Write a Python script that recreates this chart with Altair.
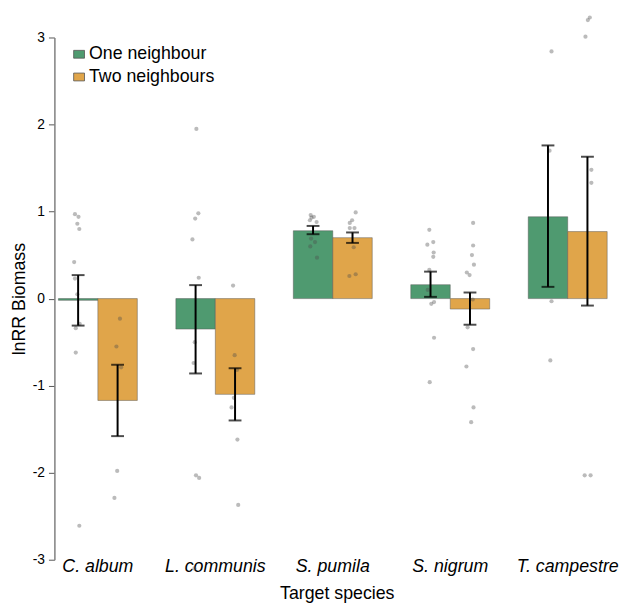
import altair as alt
import pandas as pd

species = ["C. album", "L. communis", "S. pumila", "S. nigrum", "T. campestre"]
groups = ["One neighbour", "Two neighbours"]

mean_one = [-0.02, -0.35, 0.78, 0.16, 0.94]
mean_two = [-1.17, -1.10, 0.70, -0.12, 0.77]
lo_one = [-0.31, -0.86, 0.74, 0.02, 0.135]
hi_one = [0.27, 0.155, 0.835, 0.31, 1.76]
lo_two = [-1.58, -1.40, 0.64, -0.30, -0.08]
hi_two = [-0.76, -0.80, 0.76, 0.07, 1.63]

# raw observations (value, horizontal jitter in bar widths)
calb_one = [0.97, 0.94, 0.86, 0.80, 0.42, 0.23, 0.05, -0.29, -0.34, -0.62, -2.61]
calb_one_j = [-0.08, 0.01, -0.02, 0.03, -0.10, -0.08, -0.02, 0.04, -0.06, -0.06, 0.03]
calb_two = [-0.23, -0.55, -0.79, -1.98, -2.29]
calb_two_j = [0.06, -0.03, 0.09, -0.01, -0.08]
lcom_one = [1.95, 0.98, 0.92, 0.68, 0.24, -0.50, -0.74, -2.03, -2.06, -3.10]
lcom_one_j = [0.02, 0.07, -0.01, -0.08, 0.08, -0.02, -0.05, 0.01, 0.09, -0.03]
lcom_two = [0.15, -0.65, -0.82, -1.14, -1.25, -1.62, -2.37]
lcom_two_j = [-0.05, -0.01, 0.05, -0.03, -0.09, 0.06, 0.08]
spum_one = [0.96, 0.94, 0.93, 0.90, 0.88, 0.69, 0.65, 0.60, 0.47]
spum_one_j = [-0.06, 0.02, -0.04, -0.08, 0.09, -0.05, 0.05, -0.07, 0.10]
spum_two = [0.99, 0.90, 0.87, 0.81, 0.81, 0.59, 0.26, 0.28]
spum_two_j = [0.08, -0.01, -0.07, -0.07, 0.05, 0.03, -0.08, 0.08]
snig_one = [0.79, 0.62, 0.65, 0.53, 0.48, 0.33, 0.10, -0.06, -0.04, -0.45, -0.96]
snig_one_j = [-0.03, -0.08, 0.07, 0.08, 0.07, -0.03, -0.07, 0.02, 0.09, 0.09, -0.02]
snig_two = [0.87, 0.61, 0.50, 0.39, 0.30, 0.27, -0.01, -0.33, -0.58, -0.78, -1.25, -1.42]
snig_two_j = [0.08, 0.08, 0.05, 0.10, -0.08, -0.01, 0.07, -0.06, 0.08, -0.09, 0.09, 0.03]
tcam_one = [2.84, 1.70, -0.03, -0.71]
tcam_one_j = [0.09, 0.04, 0.09, 0.06]
tcam_two = [3.23, 3.20, 3.01, 1.48, 1.33, -2.03, -2.03]
tcam_two_j = [0.06, 0.01, -0.05, 0.10, 0.10, -0.07, 0.08]

colors = ["#4F9A70", "#E0A54A"]
FONT = "Liberation Sans"

# summary table
rows = []
for i, sp in enumerate(species):
    rows.append(dict(species=sp, group=groups[0], mean=mean_one[i], lo=lo_one[i], hi=hi_one[i]))
    rows.append(dict(species=sp, group=groups[1], mean=mean_two[i], lo=lo_two[i], hi=hi_two[i]))
summary = pd.DataFrame(rows)

obs = [
    ("C. album", 0, calb_one, calb_one_j), ("C. album", 1, calb_two, calb_two_j),
    ("L. communis", 0, lcom_one, lcom_one_j), ("L. communis", 1, lcom_two, lcom_two_j),
    ("S. pumila", 0, spum_one, spum_one_j), ("S. pumila", 1, spum_two, spum_two_j),
    ("S. nigrum", 0, snig_one, snig_one_j), ("S. nigrum", 1, snig_two, snig_two_j),
    ("T. campestre", 0, tcam_one, tcam_one_j), ("T. campestre", 1, tcam_two, tcam_two_j),
]
prow = []
for sp, g, vals, jits in obs:
    for v, j in zip(vals, jits):
        prow.append(dict(species=sp, group=groups[g], val=v, pos=g + 0.5 + j))
points = pd.DataFrame(prow)

xscale = alt.Scale(domain=species, paddingInner=0.328, paddingOuter=0.034)
yscale = alt.Scale(domain=[-3, 3], nice=False, zero=False)
xaxis = alt.Axis(title="Target species", labelAngle=0, ticks=False, tickSize=0, domain=False,
                 labelFont=FONT, labelFontSize=18, labelFontStyle="italic", labelColor="black",
                 labelPadding=12, labelBaseline="alphabetic",
                 titleFont=FONT, titleFontSize=18, titleFontWeight="normal", titleColor="black",
                 titleBaseline="alphabetic", titleY=39, titleX=286)
yaxis = alt.Axis(title="lnRR Biomass", values=[-3, -2, -1, 0, 1, 2, 3], labelExpr="'' + datum.value",
                 grid=False,
                 domainColor="#7f7f7f", domainWidth=1.5, tickColor="#555555", tickSize=6, tickWidth=1,
                 labelFont=FONT, labelFontSize=14, labelColor="black", labelPadding=4,
                 titleFont=FONT, titleFontSize=18, titleFontWeight="normal", titleColor="black",
                 titleBaseline="alphabetic", titleX=-30)

offset_band = alt.XOffset("group:N", sort=groups, scale=alt.Scale(paddingInner=0, paddingOuter=0))

bars = alt.Chart(summary).mark_bar(stroke="#555555", strokeWidth=0.6, strokeOpacity=0.8).encode(
    x=alt.X("species:N", sort=species, scale=xscale, axis=xaxis),
    xOffset=offset_band,
    y=alt.Y("mean:Q", scale=yscale, axis=yaxis),
    color=alt.Color("group:N", sort=groups, scale=alt.Scale(domain=groups, range=colors),
                    legend=alt.Legend(title=None, orient="none", legendX=16, legendY=8,
                                      symbolType="M-1,-0.72L1,-0.72L1,0.72L-1,0.72Z",
                                      symbolSize=121, symbolStrokeColor="#555555", symbolStrokeWidth=0.8,
                                      symbolOpacity=1, labelFont=FONT, labelFontSize=18,
                                      labelColor="black", labelOffset=1, rowPadding=5, padding=0)),
)

err = alt.Chart(summary).mark_rule(color="black", strokeWidth=2).encode(
    x=alt.X("species:N", sort=species, scale=xscale),
    xOffset=offset_band,
    y=alt.Y("lo:Q", scale=yscale),
    y2="hi:Q",
)
cap_lo = alt.Chart(summary).mark_tick(color="black", thickness=2, size=13, orient="horizontal").encode(
    x=alt.X("species:N", sort=species, scale=xscale),
    xOffset=offset_band,
    y=alt.Y("lo:Q", scale=yscale),
)
cap_hi = alt.Chart(summary).mark_tick(color="black", thickness=2, size=13, orient="horizontal").encode(
    x=alt.X("species:N", sort=species, scale=xscale),
    xOffset=offset_band,
    y=alt.Y("hi:Q", scale=yscale),
)

pts = alt.Chart(points).mark_circle(size=18, color="#4d4d4d", opacity=0.38).encode(
    x=alt.X("species:N", sort=species, scale=xscale),
    xOffset=alt.XOffset("pos:Q", scale=alt.Scale(domain=[0, 2], nice=False, zero=False)),
    y=alt.Y("val:Q", scale=yscale),
)

chart = alt.layer(bars, pts, err, cap_lo, cap_hi).resolve_scale(xOffset="independent").properties(
    width=564, height=529,
    autosize=alt.AutoSizeParams(type="none"),
    padding={"left": 47, "top": 26, "right": 13, "bottom": 43},
).configure_view(stroke=None)

chart.save("out.html", embed_options={"renderer": "svg", "actions": False})
